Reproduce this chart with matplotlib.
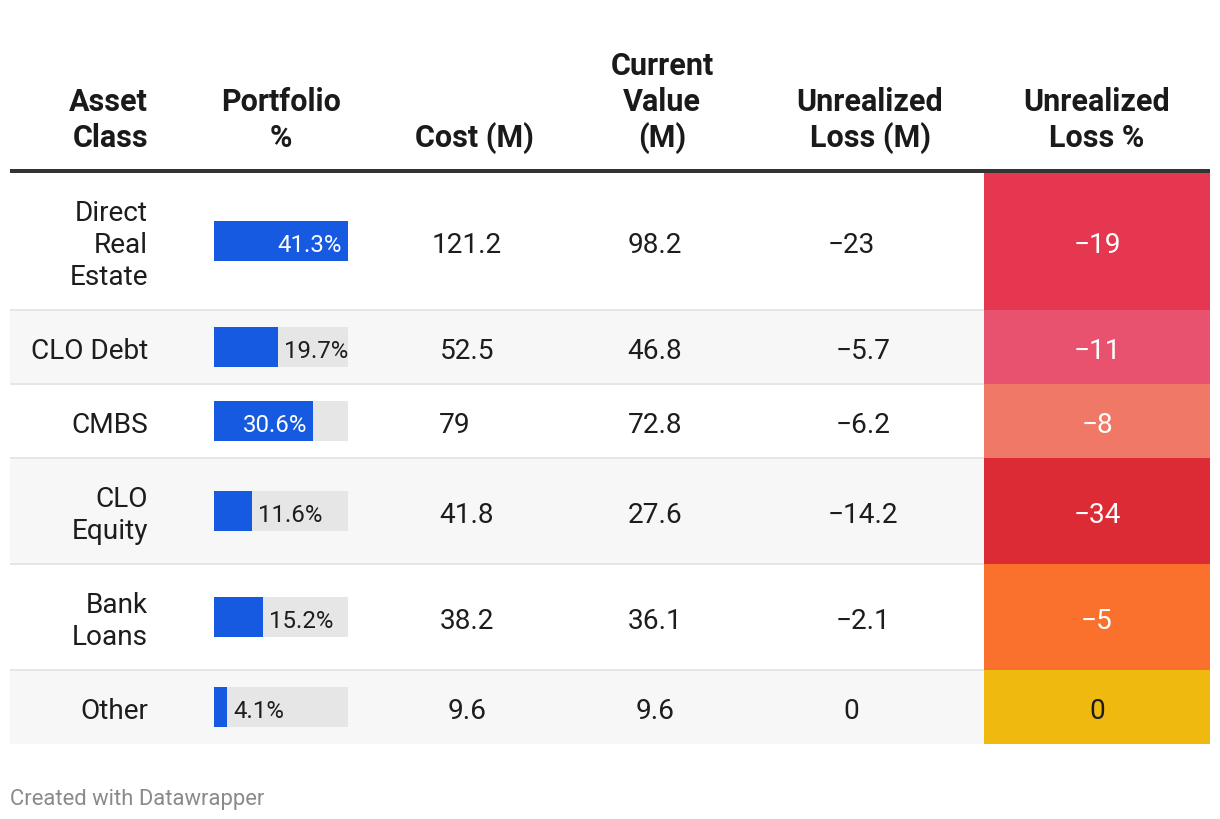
import matplotlib
matplotlib.use("Agg")
import matplotlib.pyplot as plt
from matplotlib.patches import Rectangle

plt.rcParams['font.family'] = ['Roboto', 'DejaVu Sans']

# ---------------- data ----------------
asset_labels = ["Direct\nReal\nEstate", "CLO Debt", "CMBS", "CLO\nEquity", "Bank\nLoans", "Other"]
portfolio_pct = [41.3, 19.7, 30.6, 11.6, 15.2, 4.1]
cost_m = [121.2, 52.5, 79, 41.8, 38.2, 9.6]
current_value_m = [98.2, 46.8, 72.8, 27.6, 36.1, 9.6]
unrealized_loss_m = [-23, -5.7, -6.2, -14.2, -2.1, 0]
unrealized_loss_pct = [-19, -11, -8, -34, -5, 0]
loss_pct_colors = ["#e5374f", "#e8526e", "#f07867", "#dc2b35", "#f9712d", "#f0b90f"]
headers = ["Asset\nClass", "Portfolio\n%", "Cost (M)", "Current\nValue\n(M)",
           "Unrealized\nLoss (M)", "Unrealized\nLoss %"]
footer = "Created with Datawrapper"

# ---------------- layout (pixels) ----------------
W, H = 1220, 820
fig = plt.figure(figsize=(W / 100, H / 100), dpi=100)
ax = fig.add_axes([0, 0, 1, 1])
ax.set_xlim(0, W)
ax.set_ylim(H, 0)
ax.axis("off")

TX0, TX1 = 10, 1210
HEAD_LINE_Y = 172
BODY_Y0 = 173
LINE_H = 32
ROW_PAD = 42
TEXT_COL = "#1d1d1d"
PX = 0.72  # pt per px
DY = 3.5   # optical vertical correction for va='center'

body_fs = 20.2
head_fs = 22.0
bar_fs = 17.3

# row geometry from number of lines of asset names
row_tops, row_heights = [], []
y = BODY_Y0
for lab in asset_labels:
    n = lab.count("\n") + 1
    h = ROW_PAD + LINE_H * n
    row_tops.append(y)
    row_heights.append(h)
    y += h
table_bottom = y
row_centers = [t + h / 2 for t, h in zip(row_tops, row_heights)]

# row backgrounds and separators
for i, (t, h) in enumerate(zip(row_tops, row_heights)):
    if i % 2 == 1:
        ax.add_patch(Rectangle((TX0, t), TX1 - TX0, h, color="#f7f7f7", lw=0, zorder=0))
    if i > 0:
        ax.plot([TX0, TX1], [t, t], color="#e6e6e6", lw=2 * PX, zorder=1,
                solid_capstyle="butt")

# header
col_x = [148, 281, 474, 662, 870, 1097]
col_ha = ["right", "center", "center", "center", "center", "center"]
HEAD_BASE = 147
HEAD_LH = 36
for hx, ha, txt in zip(col_x, col_ha, headers):
    lines = txt.split("\n")
    for k, ln in enumerate(reversed(lines)):
        ax.text(hx, HEAD_BASE - k * HEAD_LH, ln, ha=ha, va="baseline",
                fontsize=head_fs, fontweight="bold", color="#1a1a1a")
ax.plot([TX0, TX1], [HEAD_LINE_Y, HEAD_LINE_Y], color="#333333", lw=4 * PX,
        solid_capstyle="butt", zorder=5)

# asset class names
for lab, c in zip(asset_labels, row_centers):
    lines = lab.split("\n")
    n = len(lines)
    for k, ln in enumerate(lines):
        ax.text(148, c + DY + (k - (n - 1) / 2) * LINE_H, ln, ha="right", va="center",
                fontsize=body_fs, color=TEXT_COL)


def fmt(v):
    s = str(int(v)) if float(v).is_integer() else f"{v:.1f}"
    return s.replace("-", "\u2212")


# numeric columns (integers nudged as if padded with a hidden decimal)
INT_SHIFT = 12
for vals, cx in [(cost_m, 467), (current_value_m, 655), (unrealized_loss_m, 863)]:
    for v, c in zip(vals, row_centers):
        x = cx - INT_SHIFT if float(v).is_integer() else cx
        ax.text(x, c + DY, fmt(v), ha="center", va="center", fontsize=body_fs, color=TEXT_COL)

# heat-coloured loss % column
HX0 = 984
for i, (v, col, t, h, c) in enumerate(zip(unrealized_loss_pct, loss_pct_colors,
                                         row_tops, row_heights, row_centers)):
    top = t + (1 if i == 0 else 0)
    ax.add_patch(Rectangle((HX0, top), TX1 - HX0, t + h - top, color=col, lw=0, zorder=2))
    ax.text(1097, c + DY, fmt(v), ha="center", va="center", fontsize=body_fs,
            color="#1d1d1d" if v == 0 else "white", zorder=3)

# footer
ax.text(TX0, 800, footer, ha="left", va="center", fontsize=15.8, color="#8a8a8a")

# bar column in its own axes
BX0, BX1 = 214, 348
bax = fig.add_axes([BX0 / W, 1 - table_bottom / H, (BX1 - BX0) / W,
                    (table_bottom - BODY_Y0) / H])
bax.set_xlim(0, max(portfolio_pct))
bax.set_ylim(table_bottom, BODY_Y0)
bax.axis("off")
bax.patch.set_alpha(0)
vmax = max(portfolio_pct)
bax.barh(row_centers, [vmax] * len(row_centers), height=40, left=0, color="#e6e6e6", lw=0)
bax.barh(row_centers, portfolio_pct, height=40, left=0, color="#155ae0", lw=0)
for v, c in zip(portfolio_pct, row_centers):
    lab = f"{v:.1f}%"
    if v / vmax > 0.6:
        bax.annotate(lab, (v, c), xytext=(-6, -DY), textcoords="offset pixels",
                     ha="right", va="center", fontsize=bar_fs, color="white")
    else:
        bax.annotate(lab, (v, c), xytext=(6, -DY), textcoords="offset pixels",
                     ha="left", va="center", fontsize=bar_fs, color=TEXT_COL)

fig.savefig("out.png", dpi=100, facecolor="white")
